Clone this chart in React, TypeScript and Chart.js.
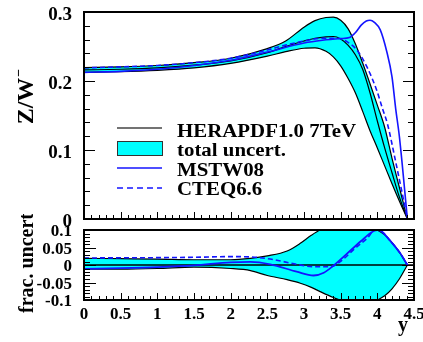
import React, { useEffect, useRef } from "react";
import { Chart, registerables } from "chart.js";
Chart.register(...registerables);

const FONT = '"Liberation Serif", "Times New Roman", serif';
const CYAN = "#00ffff";
const BLUE = "#1414ff";

// ---------- top panel: Z/W ratio vs y ----------
const bandX = [0, 0.5, 1, 1.5, 2, 2.5, 2.75, 3, 3.15, 3.3, 3.4, 3.5, 3.6, 3.7, 3.8, 3.9, 4.0, 4.1, 4.2, 4.3, 4.41];
const heraCentral = [0.216, 0.217, 0.219, 0.223, 0.229, 0.241, 0.25, 0.258, 0.262, 0.264, 0.2645, 0.261, 0.252, 0.238, 0.217, 0.183, 0.142, 0.103, 0.067, 0.032, 0];
const heraUpper = [0.2195, 0.2205, 0.2225, 0.2265, 0.233, 0.247, 0.258, 0.278, 0.2875, 0.292, 0.2925, 0.288, 0.276, 0.254, 0.226, 0.196, 0.165, 0.133, 0.088, 0.046, 0];
const heraLower = [0.2125, 0.2135, 0.2155, 0.219, 0.2255, 0.236, 0.2425, 0.2475, 0.248, 0.243, 0.235, 0.222, 0.204, 0.183, 0.156, 0.128, 0.103, 0.077, 0.051, 0.026, 0];

const mstwX = [0, 0.5, 1, 1.5, 2, 2.5, 3, 3.25, 3.5, 3.62, 3.7, 3.78, 3.85, 3.9, 3.96, 4.04, 4.13, 4.2, 4.25, 4.3, 4.41];
const mstwY = [0.2125, 0.214, 0.217, 0.2225, 0.23, 0.242, 0.255, 0.259, 0.2615, 0.263, 0.27, 0.281, 0.287, 0.288, 0.285, 0.274, 0.242, 0.206, 0.16, 0.12, 0];

const cteqX = [0, 0.5, 1, 1.5, 2, 2.5, 2.75, 3, 3.25, 3.45, 3.6, 3.72, 3.86, 3.99, 4.07, 4.14, 4.25, 4.33, 4.41];
const cteqY = [0.219, 0.2205, 0.2225, 0.2265, 0.233, 0.245, 0.252, 0.258, 0.262, 0.262, 0.256, 0.245, 0.22, 0.187, 0.16, 0.137, 0.083, 0.042, 0];

// ---------- bottom panel: fractional deviation ----------
const fracBandX = [0, 0.5, 1, 1.5, 2, 2.27, 2.5, 2.77, 2.95, 3.1, 3.22, 3.4, 3.5, 3.7, 3.85, 4.0, 4.1, 4.2, 4.3, 4.41];
const fracUpper = [0.019, 0.018, 0.017, 0.015, 0.015, 0.019, 0.026, 0.04, 0.062, 0.085, 0.1, 0.112, 0.115, 0.118, 0.115, 0.1, 0.086, 0.064, 0.037, 0];
const fracLower = [-0.012, -0.012, -0.01, -0.006, -0.01, -0.016, -0.03, -0.042, -0.052, -0.064, -0.076, -0.093, -0.101, -0.115, -0.115, -0.1, -0.088, -0.068, -0.04, 0];

const fracMstwX = [0, 0.5, 1, 1.5, 2, 2.27, 2.54, 2.9, 3.13, 3.27, 3.4, 3.59, 3.77, 3.95, 4.0, 4.05, 4.18, 4.31, 4.41];
const fracMstwY = [-0.011, -0.009, -0.006, -0.001, 0.0076, 0.009, 0.002, -0.019, -0.03, -0.022, -0.002, 0.033, 0.067, 0.097, 0.1, 0.097, 0.068, 0.034, 0];

const fracCteqX = [0, 0.5, 1, 1.5, 2, 2.27, 2.54, 2.9, 3.13, 3.36, 3.49, 3.72, 3.86, 3.97, 4.05, 4.18, 4.31, 4.41];
const fracCteqY = [0.02, 0.0205, 0.021, 0.022, 0.024, 0.023, 0.017, 0.002, -0.005, -0.005, 0.009, 0.052, 0.076, 0.1, 0.097, 0.068, 0.034, 0];

const zeroX = [0, 4.5];
const zeroY = [0, 0];

const legendLabels = ["HERAPDF1.0 7TeV", "total uncert.", "MSTW08", "CTEQ6.6"];
const topTitle = "Z/W";
const bottomTitle = "frac. uncert";
const xTitle = "y";

const pts = (xs: number[], ys: number[]) => xs.map((x, i) => ({ x, y: ys[i] }));
const fmt = (v: any) => String(Number(Number(v).toFixed(3)));

type FrameCfg = {
  yMin: number; yMax: number; yMinor: number; yMajor: number; yMaj: number; yMin_: number;
  xMinor: number; xMajor: number; xMaj: number; xMin_: number;
};

function framePlugin(cfg: FrameCfg) {
  return {
    id: "frame",
    afterDraw(chart: any) {
      const { ctx, chartArea: a, scales } = chart;
      const xs = scales.x, ys = scales.y;
      ctx.save();
      ctx.strokeStyle = "#000";
      ctx.lineWidth = 1;
      const line = (x1: number, y1: number, x2: number, y2: number) => {
        ctx.beginPath(); ctx.moveTo(x1, y1); ctx.lineTo(x2, y2); ctx.stroke();
      };
      const ny = Math.round((cfg.yMax - cfg.yMin) / cfg.yMinor);
      for (let i = 0; i <= ny; i++) {
        const v = cfg.yMin + i * cfg.yMinor;
        const r = v / cfg.yMajor;
        const major = Math.abs(r - Math.round(r)) < 1e-6;
        const L = major ? cfg.yMaj : cfg.yMin_;
        const py = Math.round(ys.getPixelForValue(v)) + 0.5;
        line(a.left, py, a.left + L, py);
        line(a.right, py, a.right - L, py);
      }
      const nx = Math.round(4.5 / cfg.xMinor);
      for (let i = 0; i <= nx; i++) {
        const v = i * cfg.xMinor;
        const r = v / cfg.xMajor;
        const major = Math.abs(r - Math.round(r)) < 1e-6;
        const L = major ? cfg.xMaj : cfg.xMin_;
        const px = Math.round(xs.getPixelForValue(v)) + 0.5;
        line(px, a.bottom, px, a.bottom - L);
      }
      ctx.lineWidth = 2;
      ctx.strokeRect(a.left, a.top, a.right - a.left, a.bottom - a.top);
      ctx.restore();
    },
  };
}

function drawScaledText(ctx: any, text: string, x: number, y: number, sx: number) {
  ctx.save();
  ctx.translate(x, y);
  ctx.scale(sx, 1);
  ctx.fillText(text, 0, 0);
  ctx.restore();
}

const topExtras = {
  id: "topExtras",
  afterDraw(chart: any) {
    const ctx = chart.ctx;
    ctx.save();
    ctx.fillStyle = "#000";
    ctx.save();
    ctx.translate(33, 101);
    ctx.rotate(-Math.PI / 2);
    ctx.font = `bold 24px ${FONT}`;
    ctx.textAlign = "center";
    ctx.textBaseline = "alphabetic";
    ctx.fillText(topTitle, 0, 0);
    const w = ctx.measureText(topTitle).width;
    ctx.font = `bold 14px ${FONT}`;
    ctx.textAlign = "left";
    ctx.fillText("\u2212", w / 2 + 1, -10);
    ctx.restore();

    const x0 = 117, x1 = 162, tx = 177;
    ctx.lineWidth = 1.5;
    ctx.strokeStyle = "#444";
    ctx.beginPath(); ctx.moveTo(x0, 128); ctx.lineTo(x1, 128); ctx.stroke();
    ctx.fillStyle = CYAN;
    ctx.fillRect(x0, 141, x1 - x0, 14);
    ctx.lineWidth = 1;
    ctx.strokeStyle = "#333";
    ctx.strokeRect(x0 + 0.5, 141.5, x1 - x0, 14);
    ctx.strokeStyle = BLUE;
    ctx.lineWidth = 1.5;
    ctx.beginPath(); ctx.moveTo(x0, 168); ctx.lineTo(x1, 168); ctx.stroke();
    ctx.setLineDash([6, 4]);
    ctx.beginPath(); ctx.moveTo(x0, 188); ctx.lineTo(x1, 188); ctx.stroke();
    ctx.setLineDash([]);

    ctx.fillStyle = "#000";
    ctx.font = `bold 18px ${FONT}`;
    ctx.textAlign = "left";
    ctx.textBaseline = "alphabetic";
    const baselines = [137, 156, 176, 195];
    legendLabels.forEach((t, i) => drawScaledText(ctx, t, tx, baselines[i], 1.16));
    ctx.restore();
  },
};

const bottomExtras = {
  id: "bottomExtras",
  afterDraw(chart: any) {
    const ctx = chart.ctx;
    ctx.save();
    ctx.fillStyle = "#000";
    ctx.save();
    ctx.translate(33, 99);
    ctx.rotate(-Math.PI / 2);
    ctx.font = `bold 20px ${FONT}`;
    ctx.textAlign = "left";
    ctx.textBaseline = "alphabetic";
    ctx.fillText(bottomTitle, 0, 0);
    ctx.restore();
    ctx.font = `bold 20px ${FONT}`;
    ctx.textAlign = "center";
    ctx.textBaseline = "alphabetic";
    ctx.fillText(xTitle, 403, 117);
    ctx.restore();
  },
};

const noPad = (s: any) => { s.paddingLeft = 0; s.paddingRight = 0; s.paddingTop = 0; s.paddingBottom = 0; };

export default function App() {
  const topRef = useRef<HTMLCanvasElement>(null);
  const botRef = useRef<HTMLCanvasElement>(null);

  useEffect(() => {
    const line = (data: any, color: string, width: number, extra: any = {}) => ({
      data, borderColor: color, borderWidth: width, pointRadius: 0, fill: false,
      cubicInterpolationMode: "monotone", ...extra,
    });

    const top = new Chart(topRef.current!, {
      type: "line",
      data: {
        datasets: [
          line(pts(bandX, heraUpper), "#000", 1.2, { fill: "+1", backgroundColor: CYAN, order: 10 }),
          line(pts(bandX, heraLower), "#000", 1.2, { order: 9 }),
          line(pts(bandX, heraCentral), "#000", 1.2, { order: 3 }),
          line(pts(cteqX, cteqY), BLUE, 1.6, { borderDash: [5, 3], order: 2 }),
          line(pts(mstwX, mstwY), BLUE, 1.6, { order: 1 }),
        ],
      },
      options: {
        responsive: false,
        animation: false,
        events: [],
        layout: { padding: { top: 12, right: 9, bottom: 7, left: 0 } },
        plugins: { legend: { display: false }, tooltip: { enabled: false } },
        scales: {
          x: { type: "linear", min: 0, max: 4.5, display: false },
          y: {
            type: "linear", min: 0, max: 0.3,
            grid: { display: false, drawTicks: false },
            border: { display: false },
            ticks: {
              stepSize: 0.1, padding: 12, labelOffset: 3, color: "#000", autoSkip: false,
              callback: fmt,
              font: { family: FONT, size: 19, weight: "bold" },
            },
            afterFit: (s: any) => { s.width = 84; noPad(s); },
          },
        },
      },
      plugins: [
        framePlugin({ yMin: 0, yMax: 0.3, yMinor: 0.02, yMajor: 0.1, yMaj: 11, yMin_: 6, xMinor: 0.1, xMajor: 0.5, xMaj: 7, xMin_: 4 }),
        topExtras,
      ],
    } as any);

    const bot = new Chart(botRef.current!, {
      type: "line",
      data: {
        datasets: [
          line(pts(fracBandX, fracUpper), "#000", 1.2, { fill: "+1", backgroundColor: CYAN, order: 10 }),
          line(pts(fracBandX, fracLower), "#000", 1.2, { order: 9 }),
          line(pts(zeroX, zeroY), "#000", 1.5, { order: 3 }),
          line(pts(fracCteqX, fracCteqY), BLUE, 1.6, { borderDash: [5, 3], order: 2 }),
          line(pts(fracMstwX, fracMstwY), BLUE, 1.8, { order: 1 }),
        ],
      },
      options: {
        responsive: false,
        animation: false,
        events: [],
        layout: { padding: { top: 16, right: 9, bottom: 0, left: 0 } },
        plugins: { legend: { display: false }, tooltip: { enabled: false } },
        scales: {
          x: {
            type: "linear", min: 0, max: 4.5,
            grid: { display: false, drawTicks: false },
            border: { display: false },
            ticks: {
              stepSize: 0.5, padding: 4, autoSkip: false, maxRotation: 0, color: "#000",
              callback: fmt,
              font: { family: FONT, size: 17, weight: "bold" },
            },
            afterFit: (s: any) => { s.height = 42; noPad(s); },
          },
          y: {
            type: "linear", min: -0.1, max: 0.1,
            grid: { display: false, drawTicks: false },
            border: { display: false },
            ticks: {
              stepSize: 0.05, padding: 12, labelOffset: 2, color: "#000", autoSkip: false,
              callback: fmt,
              font: { family: FONT, size: 17, weight: "bold" },
            },
            afterFit: (s: any) => { s.width = 84; noPad(s); },
          },
        },
      },
      plugins: [
        framePlugin({ yMin: -0.1, yMax: 0.1, yMinor: 0.01, yMajor: 0.05, yMaj: 12, yMin_: 6, xMinor: 0.1, xMajor: 0.5, xMaj: 7, xMin_: 4 }),
        bottomExtras,
      ],
    } as any);

    return () => { top.destroy(); bot.destroy(); };
  }, []);

  return (
    <div style={{ position: "fixed", left: 0, top: 0, width: 423, height: 342, background: "#fff", overflow: "hidden" }}>
      <canvas ref={topRef} width={423} height={226} style={{ position: "absolute", left: 0, top: 0, width: 423, height: 226 }} />
      <canvas ref={botRef} width={423} height={128} style={{ position: "absolute", left: 0, top: 214, width: 423, height: 128 }} />
    </div>
  );
}
